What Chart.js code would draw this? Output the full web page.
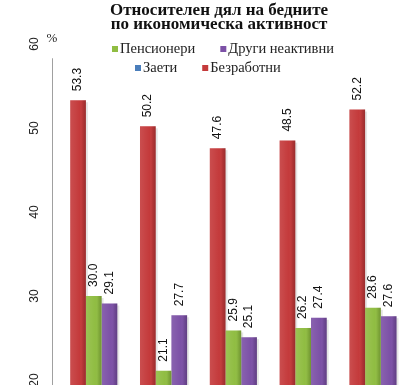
<!DOCTYPE html>
<html>
<head>
<meta charset="utf-8">
<script src="https://cdn.jsdelivr.net/npm/chart.js@4.4.0/dist/chart.umd.min.js"></script>
<style>
    body { margin: 0; background: #fff; overflow: hidden; }
    #wrap { width: 400px; height: 385px; position: relative; }
</style>
</head>
<body>
<div id="wrap"><canvas id="povertyChart"></canvas></div>
<script>
// Data (categories hidden below the crop)
const years = ['2008', '2009', '2010', '2011', '2012'];
const employed = [7.5, 7.6, 7.7, 7.4, 7.2];          // Заети - below visible range
const unemployed = [53.3, 50.2, 47.6, 48.5, 52.2];   // Безработни
const pensioners = [30.0, 21.1, 25.9, 26.2, 28.6];   // Пенсионери
const otherInactive = [29.1, 27.7, 25.1, 27.4, 27.6]; // Други неактивни
const yTicks = [20, 30, 40, 50, 60];
const titleLines = ['Относителен дял на бедните', 'по икономическа активност'];
const legendRows = [['Пенсионери', 'Други неактивни'], ['Заети', 'Безработни']];

const colors = {
    'Заети': '#4a7ebb',
    'Безработни': '#c43a3b',
    'Пенсионери': '#90bd42',
    'Други неактивни': '#7c51a6'
};

// Soft shadow behind bars
const shadowPlugin = {
    id: 'barShadow',
    beforeDatasetsDraw(chart) {
        const ctx = chart.ctx;
        const area = chart.chartArea;
        ctx.save();
        ctx.beginPath();
        ctx.rect(area.left, area.top, area.right - area.left, area.bottom - area.top);
        ctx.clip();
        ctx.fillStyle = 'rgba(0,0,0,0.10)';
        chart.data.datasets.forEach((ds, i) => {
            chart.getDatasetMeta(i).data.forEach(bar => {
                ctx.fillRect(bar.x - bar.width / 2 + 2, bar.y + 2, bar.width, bar.base - bar.y);
            });
        });
        ctx.restore();
    }
};

// Draws title, shading, axis line, rotated tick labels, value labels and the legend
const decorPlugin = {
    id: 'decor',
    afterDatasetsDraw(chart) {
        const ctx = chart.ctx;
        const yScale = chart.scales.y;
        const area = chart.chartArea;
        ctx.save();

        // title
        ctx.fillStyle = '#111';
        ctx.font = 'bold 17px "Liberation Serif"';
        ctx.textAlign = 'center';
        ctx.textBaseline = 'middle';
        titleLines.forEach((line, k) => {
            ctx.fillText(line, 219, 11 + k * 14);
        });

        // bar shading (lighter left, darker right edge)
        chart.data.datasets.forEach((ds, i) => {
            chart.getDatasetMeta(i).data.forEach(bar => {
                if (bar.y >= area.bottom) return;
                const left = bar.x - bar.width / 2;
                const g = ctx.createLinearGradient(left, 0, left + bar.width, 0);
                g.addColorStop(0, 'rgba(255,255,255,0.10)');
                g.addColorStop(0.6, 'rgba(255,255,255,0.0)');
                g.addColorStop(0.8, 'rgba(0,0,0,0.08)');
                g.addColorStop(1, 'rgba(0,0,0,0.22)');
                ctx.fillStyle = g;
                ctx.fillRect(left, bar.y, bar.width, area.bottom - bar.y);
            });
        });

        // y axis line
        ctx.strokeStyle = '#a0a0a0';
        ctx.lineWidth = 1;
        ctx.beginPath();
        ctx.moveTo(area.left + 1.5, yScale.getPixelForValue(58.3));
        ctx.lineTo(area.left + 1.5, area.bottom);
        ctx.stroke();

        // rotated tick labels
        ctx.fillStyle = '#222';
        ctx.font = '12px "Liberation Sans"';
        yTicks.forEach(t => {
            ctx.save();
            ctx.translate(area.left - 16, yScale.getPixelForValue(t));
            ctx.rotate(-Math.PI / 2);
            ctx.fillText(String(t), 0, 0);
            ctx.restore();
        });

        // unit
        ctx.font = '13px "Liberation Serif"';
        ctx.fillText('%', area.left + 1, yScale.getPixelForValue(60) - 5);

        // value labels
        ctx.font = '12px "Liberation Sans"';
        ctx.fillStyle = '#111';
        ctx.textAlign = 'left';
        chart.data.datasets.forEach((ds, i) => {
            const meta = chart.getDatasetMeta(i);
            meta.data.forEach((bar, j) => {
                const v = ds.data[j];
                if (v < yScale.min) return;
                ctx.save();
                ctx.translate(bar.x, bar.y - 9);
                ctx.rotate(-Math.PI / 2);
                ctx.fillText(v.toFixed(1), 0, 0);
                ctx.restore();
            });
        });

        // legend
        ctx.font = '14.5px "Liberation Serif"';
        const rowStart = [112, 135];
        const rowY = [49, 68];
        legendRows.forEach((row, r) => {
            let x = rowStart[r];
            row.forEach(name => {
                ctx.fillStyle = colors[name];
                ctx.fillRect(x, rowY[r] - 3, 6, 6);
                ctx.fillStyle = '#222';
                ctx.fillText(name, x + 8, rowY[r]);
                x += 8 + ctx.measureText(name).width + 25;
            });
        });

        ctx.restore();
    }
};

const ctx = document.getElementById('povertyChart').getContext('2d');
new Chart(ctx, {
    type: 'bar',
    data: {
        labels: years,
        datasets: [
            { label: 'Заети', data: employed, backgroundColor: colors['Заети'] },
            { label: 'Безработни', data: unemployed, backgroundColor: colors['Безработни'] },
            { label: 'Пенсионери', data: pensioners, backgroundColor: colors['Пенсионери'] },
            { label: 'Други неактивни', data: otherInactive, backgroundColor: colors['Други неактивни'] }
        ]
    },
    options: {
        responsive: true,
        maintainAspectRatio: false,
        animation: false,
        layout: { padding: { left: 51, right: 0, top: 44, bottom: 0 } },
        datasets: {
            bar: { barPercentage: 1.0, categoryPercentage: 0.9 }
        },
        plugins: {
            legend: { display: false },
            tooltip: { enabled: false },
            title: { display: false }
        },
        scales: {
            x: { display: false },
            y: { display: false, min: 19.4, max: 60 }
        }
    },
    plugins: [shadowPlugin, decorPlugin]
});
</script>
</body>
</html>
